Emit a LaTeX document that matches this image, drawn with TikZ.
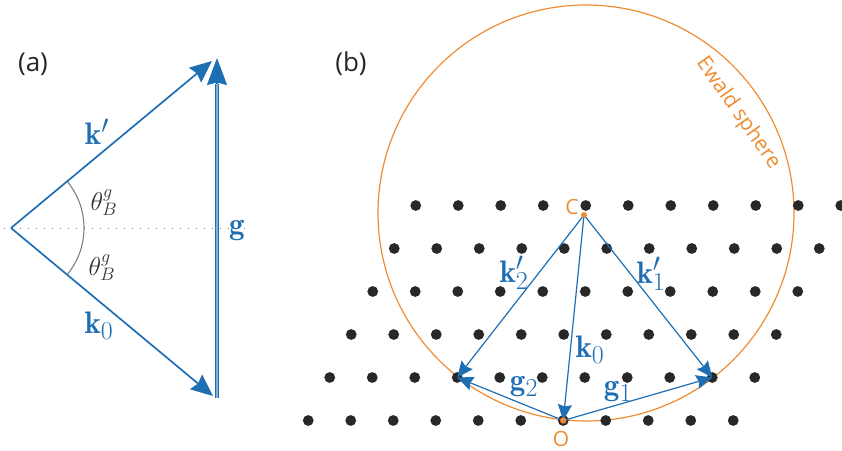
\documentclass[tikz,border=0pt]{standalone}
\usepackage{fontspec}
\usepackage{graphicx}
\newfontfamily\labelfont{Open Sans}
\usetikzlibrary{arrows.meta}
\definecolor{vecblue}{RGB}{30,110,180}
\definecolor{ewald}{RGB}{238,140,50}
\definecolor{dotgray}{RGB}{40,40,40}
\newcommand{\veclab}[1]{\scalebox{1.25}{$#1$}}
\begin{document}
\begin{tikzpicture}[x=1pt,y=-1pt,
  vec/.style={draw=vecblue, line width=1.7pt, -{Stealth[length=22pt,width=19pt,inset=2.5pt]}},
  gtip/.style={draw=vecblue, line width=1.7pt, -{Stealth[length=27pt,width=20pt,inset=2.5pt]}},
  gshaft/.style={draw=vecblue, line width=1.4pt, double=vecblue!55, double distance=1.5pt},
  vecb/.style={draw=vecblue, line width=1.2pt, -{Stealth[length=16pt,width=14pt,inset=2pt]}},
  vlab/.style={text=vecblue, font=\fontsize{24.88}{28}\selectfont, inner sep=0pt},
  anglab/.style={text=black!80, font=\fontsize{20.74}{24}\selectfont, inner sep=0pt},
  sanslab/.style={text=black!85, font=\labelfont\fontsize{26}{29}\selectfont, inner sep=0pt},
  orlab/.style={text=ewald, font=\labelfont\fontsize{21}{24}\selectfont, inner sep=0pt},
  latdot/.style={fill=dotgray},
  guide/.style={gray, line width=0.9pt, dash pattern=on 1pt off 7pt},
  anglearc/.style={draw=gray, line width=1.1pt},
  sphere/.style={draw=ewald, line width=1.2pt}
]
\useasboundingbox (0,0) rectangle (842,450);

% ---------- (a) ----------
\coordinate (V) at (11,228);
\coordinate (Kp) at (212,61);
\coordinate (K0) at (213,396);
\coordinate (Gb) at (217,398);
\coordinate (Gt) at (217,58);
\coordinate (Gh) at (217,84);
\coordinate (Hs) at (4,228);
\coordinate (He) at (247,228);
\draw[guide] (Hs) -- (He);
\draw[anglearc] (V) ++(-40:73) arc[start angle=-40, end angle=40, radius=73];
\draw[vec] (V) -- (Kp);
\draw[vec] (V) -- (K0);
\draw[gshaft] (Gb) -- (Gh);
\draw[gtip] (Gh) -- (Gt);
\node[vlab] (lkp) at (97,132) {\veclab{\mathbf{k}'}};
\node[vlab] (lk0) at (99,326) {\veclab{\mathbf{k}_0}};
\node[vlab] (lg) at (237,231) {\veclab{\mathbf{g}}};
\node[anglab] (th1) at (104,203) {\veclab{\theta_B^g}};
\node[anglab] (th2) at (102,268) {\veclab{\theta_B^g}};
\node[sanslab] (la) at (33,64) {(a)};
\node[sanslab] (lb) at (351,64) {(b)};

% ---------- (b) ----------
\draw[sphere] (586,213) circle[radius=208];
\foreach \j in {0,...,5}{
  \foreach \i in {0,...,10}{
    \fill[latdot] ({415.75-21.5*\j+42.5*\i},{205.5+43*\j}) circle[radius=5.4];
  }
}
\coordinate (C) at (584,215);
\coordinate (O) at (563.25,420.5);
\coordinate (G2) at (457.25,377.5);
\coordinate (G1) at (712.25,377.5);
\draw[vecb] (C) -- (G2);
\draw[vecb] (C) -- (O);
\draw[vecb] (C) -- (G1);
\draw[vecb] (O) -- (G2);
\draw[vecb] (O) -- (G1);
\fill[ewald] (C) circle[radius=3];
\fill[ewald] (O) circle[radius=3.2];
\node[vlab] (lk2) at (514,273) {\veclab{\mathbf{k}'_2}};
\node[vlab] (lk1) at (651,274) {\veclab{\mathbf{k}'_1}};
\node[vlab] (lkb0) at (590,350) {\veclab{\mathbf{k}_0}};
\node[vlab] (lg2) at (524,387) {\veclab{\mathbf{g}_2}};
\node[vlab] (lg1) at (618,392) {\veclab{\mathbf{g}_1}};
\node[orlab] (lC) at (572,207) {C};
\node[orlab] (lO) at (561,439) {O};
\node[orlab, rotate=-55] (lE) at (738,113) {Ewald sphere};
\end{tikzpicture}
\end{document}
